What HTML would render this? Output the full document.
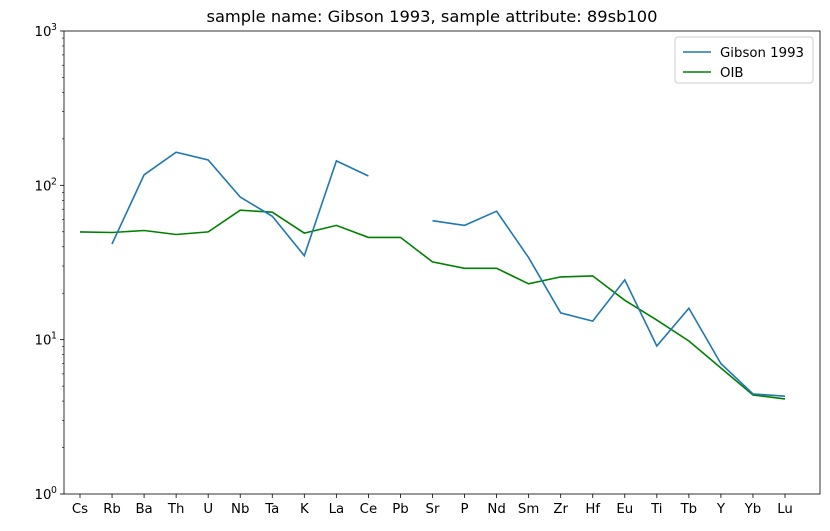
<!DOCTYPE html>
<html><head><meta charset="utf-8"><style>
body{margin:0;background:#fff;font-family:"Liberation Sans","DejaVu Sans",sans-serif}
svg text{font-family:"DejaVu Sans","Liberation Sans",sans-serif}
</style></head><body>
<svg id="chart" width="830" height="526" xmlns="http://www.w3.org/2000/svg">
<text x="432" y="22" font-size="16.3" text-anchor="middle">sample name: Gibson 1993, sample attribute: 89sb100</text>
<g id="plot"></g>
</svg>
<script>
const categories=["Cs","Rb","Ba","Th","U","Nb","Ta","K","La","Ce","Pb","Sr","P","Nd","Sm","Zr","Hf","Eu","Ti","Tb","Y","Yb","Lu"];
const gibsonValues=[null,41.7,117,164,146,84,63,35,144,115,null,59,55,68,34,14.9,13.2,24.4,9.1,16,7,4.45,4.3];
const oibValues=[49.9,49.5,51,48,49.9,69,67,49,55,46,46,31.9,29,29,23,25.5,25.9,18,13.4,9.8,6.55,4.38,4.13];
const yTickValues=[1,10,100,1000];
const yTickLabels=["10","10","10","10"];
const yTickExps=["0","1","2","3"];
const L=64,R=820,T=31,B=494;
const n=categories.length;
const x0=80,x1=785;
function xScale(i){return x0+(x1-x0)*i/(n-1);}
function yScale(v){return B-(B-T)*Math.log10(v)/3;}
const NS="http://www.w3.org/2000/svg";
const g=document.getElementById('plot');
function mk(t,a){const e=document.createElementNS(NS,t);for(const k in a)e.setAttribute(k,a[k]);g.appendChild(e);return e;}
const fr=mk('rect',{x:L,y:T,width:R-L,height:B-T,fill:'none',stroke:'#000','stroke-width':0.8});


categories.forEach((c,i)=>{
 const x=xScale(i);
 const tk=mk('line',{x1:x,x2:x,y1:B,y2:B+4,stroke:'#000','stroke-width':0.8});
 
 
 const t=mk('text',{x:x,y:B+19,'font-size':13.3,'text-anchor':'middle'});
 t.textContent=c;
 
 
});
yTickValues.forEach((v,i)=>{
 const y=yScale(v);
 const tk=mk('line',{x1:L-4,x2:L,y1:y,y2:y,stroke:'#000','stroke-width':0.8});
 
 
 const t=mk('text',{x:L-21,y:y+5,'font-size':13.3,'text-anchor':'middle'});
 t.textContent=yTickLabels[i];
 
 
 const s=mk('text',{x:L-10,y:y-1,'font-size':9.3,'text-anchor':'middle'});
 s.textContent=yTickExps[i];
 
 
});
for(let d=0;d<3;d++)for(let m=2;m<10;m++){
 const y=yScale(m*Math.pow(10,d));
 const tk=mk('line',{x1:L-2,x2:L,y1:y,y2:y,stroke:'#000','stroke-width':0.6});
 
 
}
function drawSeries(vals,color,name){
 let d='',pen=false;
 vals.forEach((v,i)=>{
  if(v==null){pen=false;return;}
  d+=(pen?'L':'M')+xScale(i).toFixed(1)+' '+yScale(v).toFixed(1)+' ';
  pen=true;
 });
 const p=mk('path',{d:d,fill:'none',stroke:color,'stroke-width':1.6});
 
 
}
drawSeries(oibValues,'#008000','oib-line');
drawSeries(gibsonValues,'#1f77b4','gibson-1993-line');
const lg=mk('rect',{x:675,y:37,width:138,height:46,rx:3,fill:'#fff',stroke:'#ccc'});


[['Gibson 1993','#1f77b4',52],['OIB','#008000',72]].forEach(([lab,col,y])=>{
 const l=mk('line',{x1:683,x2:711,y1:y,y2:y,stroke:col,'stroke-width':1.6});
 
 
 const t=mk('text',{x:720,y:y+5,'font-size':13.3});
 t.textContent=lab;
 
 
});
</script>
</body></html>
